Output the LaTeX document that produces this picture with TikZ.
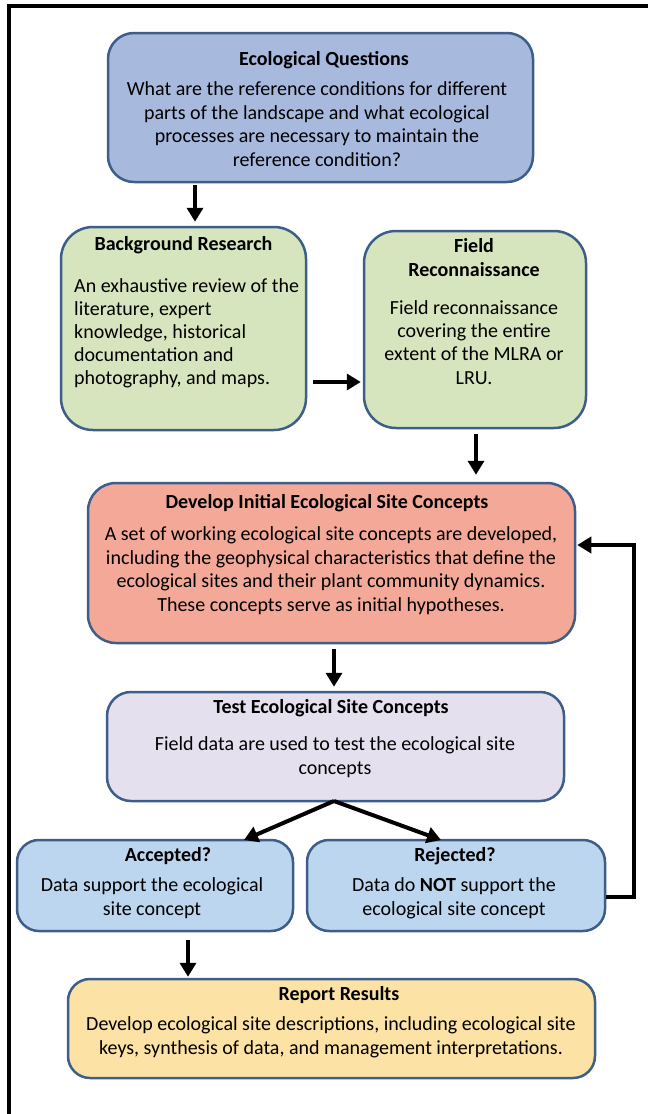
\documentclass[tikz,border=0pt]{standalone}
\usepackage{fontspec}
\setmainfont{Carlito}
\usetikzlibrary{arrows.meta}
\definecolor{bordc}{RGB}{62,94,138}
\definecolor{eqc}{RGB}{168,185,222}
\definecolor{grc}{RGB}{215,229,190}
\definecolor{dic}{RGB}{243,168,152}
\definecolor{tsc}{RGB}{229,224,237}
\definecolor{blc}{RGB}{187,214,238}
\definecolor{rpc}{RGB}{252,226,165}
\begin{document}
\begin{tikzpicture}[x=1pt,y=-1pt,
  box/.style={draw=bordc, line width=2.5pt, rounded corners=#1, inner sep=0pt},
  txt/.style={inner sep=0pt, anchor=mid, font=\fontsize{20}{23.7}\selectfont},
  ttl/.style={txt, font=\fontsize{20}{23.7}\selectfont\bfseries},
  arr/.style={line width=4pt, -{Triangle[width=16pt,length=14pt]}},
]
\useasboundingbox (0,0) rectangle (648,1114);
% frame
\draw[line width=4pt] (9,1116) -- (9,6) -- (648,6);

% boxes
\node[box=26pt, fill=eqc, minimum width=425pt, minimum height=149pt] (eq) at (320.5,107.5) {};
\node[box=32pt, fill=grc, minimum width=245pt, minimum height=203pt] (br) at (183.5,328.5) {};
\node[box=32pt, fill=grc, minimum width=222pt, minimum height=197pt] (fr) at (475,329.5) {};
\node[box=28pt, fill=dic, minimum width=487pt, minimum height=160pt] (di) at (331.5,563) {};
\node[box=24pt, fill=tsc, minimum width=457pt, minimum height=109pt] (ts) at (335.5,746.5) {};
\node[box=22pt, fill=blc, minimum width=276pt, minimum height=91pt] (acc) at (155,885.5) {};
\node[box=22pt, fill=blc, minimum width=298pt, minimum height=91pt] (rej) at (456,885.5) {};
\node[box=22pt, fill=rpc, minimum width=527pt, minimum height=99pt] (rep) at (331.5,1028.5) {};

% texts
\node[ttl] (eqT) at (324,63) {Ecological Questions};
\node[txt] (eqB) at (317,93) {\begin{tabular}[t]{@{}c@{}}What are the reference conditions for different\\ parts of the landscape and what ecological\\ processes are necessary to maintain the\\ reference condition?\end{tabular}};

\node[ttl] (brT) at (183.5,248) {Background Research};
\node[txt, anchor=mid west, font=\fontsize{20}{23}\selectfont] (brB) at (74,290) {\begin{tabular}[t]{@{}l@{}}An exhaustive review of the\\ literature, expert\\ knowledge, historical\\ documentation and\\ photography, and maps.\end{tabular}};

\node[ttl] (frT) at (474,250) {\begin{tabular}[t]{@{}c@{}}Field\\ Reconnaissance\end{tabular}};
\node[txt, font=\fontsize{20}{23.3}\selectfont] (frB) at (474,312) {\begin{tabular}[t]{@{}c@{}}Field reconnaissance\\ covering the entire\\ extent of the MLRA or\\ LRU.\end{tabular}};

\node[ttl] (diT) at (327,506) {Develop Initial Ecological Site Concepts};
\node[txt] (diB) at (331,538) {\begin{tabular}[t]{@{}c@{}}A set of working ecological site concepts are developed,\\ including the geophysical characteristics that define the\\ ecological sites and their plant community dynamics.\\ These concepts serve as initial hypotheses.\end{tabular}};

\node[ttl] (tsT) at (331,711) {Test Ecological Site Concepts};
\node[txt, font=\fontsize{20}{24}\selectfont] (tsB) at (335,748) {\begin{tabular}[t]{@{}c@{}}Field data are used to test the ecological site\\ concepts\end{tabular}};

\node[ttl] (accT) at (168,859) {Accepted?};
\node[txt, font=\fontsize{20}{24}\selectfont] (accB) at (152,889) {\begin{tabular}[t]{@{}c@{}}Data support the ecological\\ site concept\end{tabular}};

\node[ttl] (rejT) at (455,859) {Rejected?};
\node[txt, font=\fontsize{20}{24}\selectfont] (rejB) at (454,889) {\begin{tabular}[t]{@{}c@{}}Data do \textbf{NOT} support the\\ ecological site concept\end{tabular}};

\node[ttl] (repT) at (339,998) {Report Results};
\node[txt, font=\fontsize{20}{24}\selectfont] (repB) at (331,1028) {\begin{tabular}[t]{@{}c@{}}Develop ecological site descriptions, including ecological site\\ keys, synthesis of data, and management interpretations.\end{tabular}};

% connector guides
\coordinate (x1) at (195,0);
\coordinate (x2) at (476,0);
\coordinate (x3) at (334,0);
\coordinate (x4) at (188,0);
\coordinate (y1) at (0,382);
\coordinate (fbx) at (634,0);
\coordinate (accIn) at (244,840);
\coordinate (rejIn) at (441,840);
\coordinate (apex) at (334,801);
\coordinate (rejOut) at ([yshift=-11.5pt]rej.east);
\coordinate (diIn) at ([yshift=18pt,xshift=1pt]di.east);

\draw[arr, shorten <=2pt, shorten >=4pt] (eq.south -| x1) -- (br.north -| x1);
\draw[arr, shorten <=6pt, shorten >=2pt] (br.east |- y1) -- (fr.west |- y1);
\draw[arr, shorten <=5pt, shorten >=7pt] (fr.south -| x2) -- (di.north -| x2);
\draw[arr, shorten <=5pt, shorten >=4pt] (di.south -| x3) -- (ts.north -| x3);
\draw[arr] (apex) -- (accIn);
\draw[arr] (apex) -- (rejIn);
\draw[arr, shorten <=8pt, shorten >=1pt] (acc.south -| x4) -- (rep.north -| x4);
\draw[arr, line join=miter] (rejOut) -| (fbx |- diIn) -- (diIn);
\end{tikzpicture}
\end{document}
